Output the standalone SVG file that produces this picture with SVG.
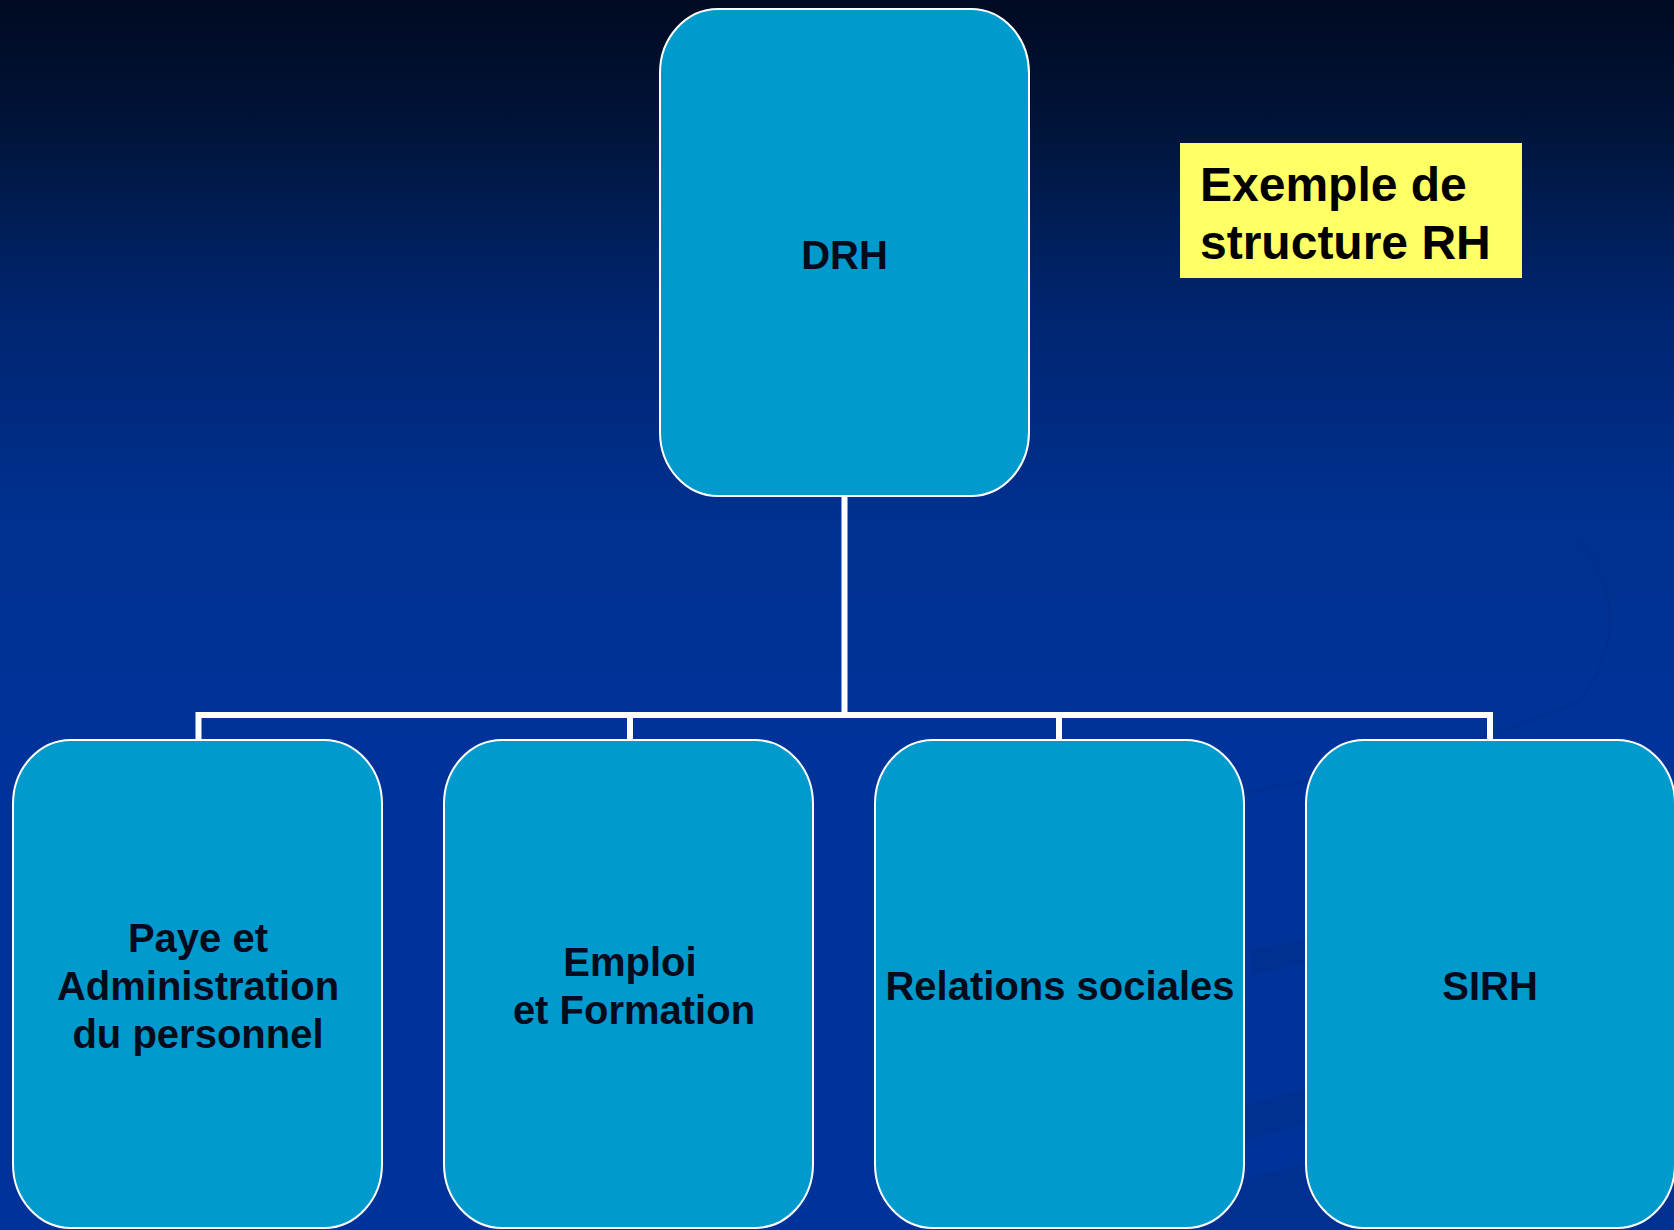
<svg xmlns="http://www.w3.org/2000/svg" width="1674" height="1230" viewBox="0 0 1674 1230">
<style>
.box{fill:#009ACC;stroke:#ffffff;stroke-width:2}
.lbl{font-family:"Liberation Sans",Arial,sans-serif;font-weight:bold;font-size:40px;fill:#060b1c;text-anchor:middle}
.title{font-family:"Liberation Sans",Arial,sans-serif;font-weight:bold;font-size:48px;fill:#000000}
.conn{fill:none;stroke:#ffffff;stroke-width:6}
</style>
<defs>
<linearGradient id="bg" x1="0" y1="0" x2="0" y2="1">
<stop offset="0" stop-color="#000a22"/>
<stop offset="0.1" stop-color="#001438"/>
<stop offset="0.25" stop-color="#00256f"/>
<stop offset="0.42" stop-color="#003090"/>
<stop offset="0.6" stop-color="#003399"/>
<stop offset="1" stop-color="#003399"/>
</linearGradient>
</defs>
<rect x="0" y="0" width="1674" height="1230" fill="url(#bg)"/>
<g id="background-streaks" opacity="0.3">
<path d="M1250 950 L1674 870 L1674 890 L1250 975 Z" fill="#002a80"/>
<path d="M1150 1130 L1674 990 L1674 1030 L1150 1165 Z" fill="#002a80"/>
<path d="M1150 1200 L1674 1080 L1674 1230 L1150 1230 Z" fill="#002a80"/>
<path d="M1580 540 Q1640 620 1580 700 Q1450 760 1200 800" fill="none" stroke="#002a85" stroke-width="3"/>
</g>
<g id="connectors">
<path class="conn" d="M844.5 496 V715"/>
<path class="conn" d="M198.5 740 V715 H1490 V740"/>
<path class="conn" d="M630 715 V740"/>
<path class="conn" d="M1059 715 V740"/>
</g>
<g id="node-drh">
<rect class="box" x="660" y="9" width="369" height="487" rx="58" ry="64"/>
<text class="lbl" x="844.5" y="269">DRH</text>
</g>
<g id="node-title">
<rect x="1180" y="143" width="342" height="135" fill="#ffff66"/>
<text class="title" x="1200" y="201">Exemple de</text>
<text class="title" x="1200" y="259">structure RH</text>
</g>
<g id="node-paye">
<rect class="box" x="13" y="740" width="369" height="488" rx="58" ry="64"/>
<text class="lbl" x="198" y="952">Paye et</text>
<text class="lbl" x="198" y="1000">Administration</text>
<text class="lbl" x="198" y="1048">du personnel</text>
</g>
<g id="node-emploi">
<rect class="box" x="444" y="740" width="369" height="488" rx="58" ry="64"/>
<text class="lbl" x="630" y="976">Emploi</text>
<text class="lbl" x="634" y="1024">et Formation</text>
</g>
<g id="node-relations">
<rect class="box" x="875" y="740" width="369" height="488" rx="58" ry="64"/>
<text class="lbl" x="1060" y="1000">Relations sociales</text>
</g>
<g id="node-sirh">
<rect class="box" x="1306" y="740" width="369" height="488" rx="58" ry="64"/>
<text class="lbl" x="1490" y="1000">SIRH</text>
</g>
</svg>
